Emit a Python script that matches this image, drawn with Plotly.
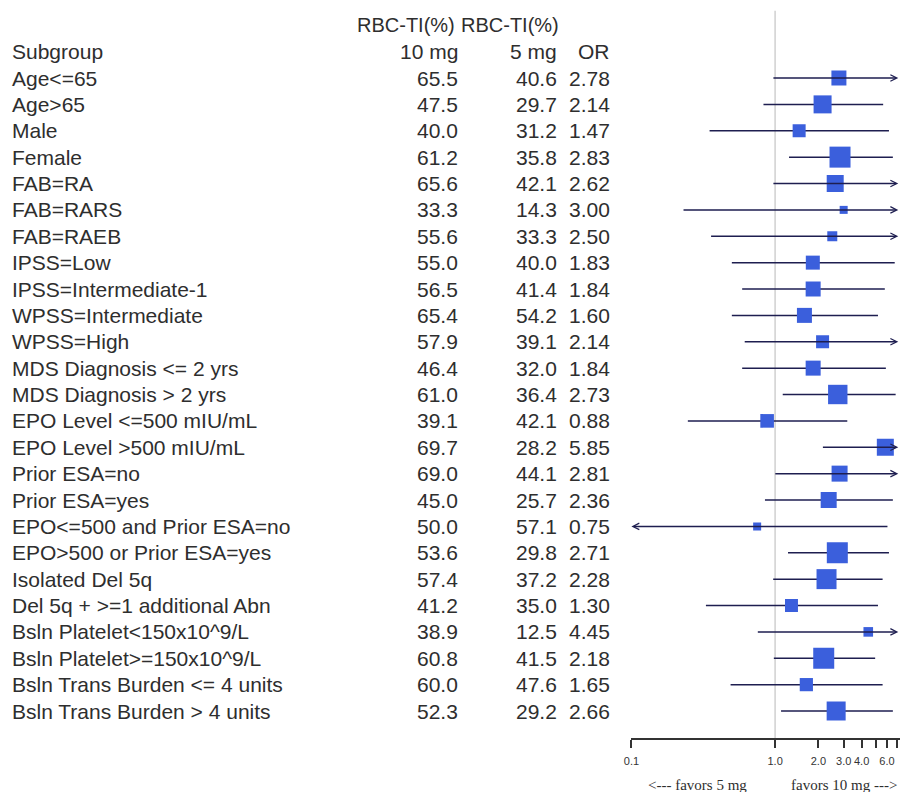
import numpy as np
import plotly.graph_objects as go

# ---- subgroup data ---------------------------------------------------------
subgroups = [
    "Age<=65", "Age>65", "Male", "Female", "FAB=RA", "FAB=RARS", "FAB=RAEB",
    "IPSS=Low", "IPSS=Intermediate-1", "WPSS=Intermediate", "WPSS=High",
    "MDS Diagnosis <= 2 yrs", "MDS Diagnosis > 2 yrs",
    "EPO Level <=500 mIU/mL", "EPO Level >500 mIU/mL",
    "Prior ESA=no", "Prior ESA=yes",
    "EPO<=500 and Prior ESA=no", "EPO>500 or Prior ESA=yes",
    "Isolated Del 5q", "Del 5q + >=1 additional Abn",
    "Bsln Platelet<150x10^9/L", "Bsln Platelet>=150x10^9/L",
    "Bsln Trans Burden <= 4 units", "Bsln Trans Burden > 4 units",
]
rbc_ti_10mg = [65.5, 47.5, 40.0, 61.2, 65.6, 33.3, 55.6, 55.0, 56.5, 65.4, 57.9,
               46.4, 61.0, 39.1, 69.7, 69.0, 45.0, 50.0, 53.6, 57.4, 41.2, 38.9,
               60.8, 60.0, 52.3]
rbc_ti_5mg = [40.6, 29.7, 31.2, 35.8, 42.1, 14.3, 33.3, 40.0, 41.4, 54.2, 39.1,
              32.0, 36.4, 42.1, 28.2, 44.1, 25.7, 57.1, 29.8, 37.2, 35.0, 12.5,
              41.5, 47.6, 29.2]
odds_ratio = [2.78, 2.14, 1.47, 2.83, 2.62, 3.00, 2.50, 1.83, 1.84, 1.60, 2.14,
              1.84, 2.73, 0.88, 5.85, 2.81, 2.36, 0.75, 2.71, 2.28, 1.30, 4.45,
              2.18, 1.65, 2.66]
# 95% CI bounds; None = bound lies beyond the plotted scale (drawn as an arrow)
ci_lower = [0.95, 0.83, 0.35, 1.25, 0.95, 0.225, 0.35, 0.50, 0.59, 0.50, 0.60,
            0.59, 1.13, 0.247, 2.10, 0.98, 0.85, None, 1.23, 0.97, 0.33, 0.74,
            0.98, 0.49, 1.10]
ci_upper = [None, 5.65, 6.2, 6.6, None, None, None, 6.8, 5.8, 5.2, None,
            5.9, 6.9, 3.18, None, None, 6.6, 6.2, 6.2, 5.6, 5.2, None,
            4.97, 5.6, 6.6]
# relative box weight per subgroup
box_weight = [0.75, 0.90, 0.65, 1.05, 0.85, 0.40, 0.50, 0.70, 0.75, 0.75, 0.65,
              0.75, 0.97, 0.68, 0.85, 0.80, 0.80, 0.40, 1.05, 1.00, 0.65, 0.48,
              1.05, 0.66, 0.95]

tick_values = [0.1, 1, 2, 3, 4, 5, 6, 7]
tick_labels = ["0.1", "1.0", "2.0", "3.0", "4.0", "", "6.0", ""]

# ---- geometry ---------------------------------------------------------------
W, H = 900, 792
n = len(subgroups)
rows = np.arange(n)
row_top_px, row_step_px = 78.0, 26.375
axis_px = 738.0
y_top = -row_top_px / row_step_px
y_bottom = (axis_px - row_top_px) / row_step_px
x_min_log, x_max_log = -1.0, np.log10(7.4)

TEXT = "#2e2e2e"
LINE = "#1e1e50"
BOX = "#3b5fdc"
SANS = "Liberation Sans, Arial, sans-serif"
SERIF = "Liberation Serif, Times New Roman, serif"
FONT_SIZE = 21

fig = go.Figure()

# reference line at OR = 1
fig.add_trace(go.Scatter(
    x=[1, 1], y=[y_bottom, -2.55], mode="lines",
    line=dict(color="#d0d0d0", width=1.5), hoverinfo="skip", showlegend=False,
))

# confidence interval segments that stay on the scale
seg_x, seg_y = [], []
for i in rows:
    lo, hi = ci_lower[i], ci_upper[i]
    if lo is not None and hi is not None:
        seg_x += [lo, hi, None]
        seg_y += [i, i, None]
fig.add_trace(go.Scatter(
    x=seg_x, y=seg_y, mode="lines", line=dict(color=LINE, width=1.5),
    hoverinfo="skip", showlegend=False,
))

# odds-ratio boxes
fig.add_trace(go.Scatter(
    x=odds_ratio, y=rows, mode="markers",
    marker=dict(symbol="square", size=[20 * w for w in box_weight], color=BOX,
                opacity=1, line=dict(width=0)),
    hoverinfo="skip", showlegend=False,
))

annotations = []

# intervals running off the scale are drawn as arrows
tip_right = x_max_log - 0.012
tip_left = x_min_log
for i in rows:
    lo, hi = ci_lower[i], ci_upper[i]
    if hi is None:
        annotations.append(dict(
            x=tip_right, y=i, ax=np.log10(lo), ay=i, xref="x", yref="y",
            axref="x", ayref="y", text="", showarrow=True, arrowhead=5,
            arrowsize=0.85, arrowwidth=1.5, arrowcolor=LINE, standoff=0,
        ))
    if lo is None:
        annotations.append(dict(
            x=tip_left, y=i, ax=np.log10(hi), ay=i, xref="x", yref="y",
            axref="x", ayref="y", text="", showarrow=True, arrowhead=5,
            arrowsize=0.85, arrowwidth=1.5, arrowcolor=LINE, standoff=0,
        ))

# table columns
col_name_x, col_10_x, col_5_x, col_or_x = 2, 456, 556, 609


def cell(text, x_px, row, anchor, size=FONT_SIZE):
    return dict(
        x=x_px / W, y=row, xref="paper", yref="y", text=text, showarrow=False,
        xanchor=anchor, yanchor="middle",
        font=dict(family=SANS, size=size, color=TEXT),
    )


annotations += [
    cell("RBC-TI(%)", col_10_x - 3, -2, "right", 20),
    cell("RBC-TI(%)", col_5_x + 2, -2, "right", 20),
    cell("Subgroup", col_name_x, -1, "left"),
    cell("10 mg", col_10_x, -1, "right"),
    cell("5 mg", col_5_x, -1, "right"),
    cell("OR", col_or_x, -1, "right"),
]
for i in rows:
    annotations += [
        cell(subgroups[i], col_name_x, i, "left"),
        cell(f"{rbc_ti_10mg[i]:.1f}", col_10_x, i, "right"),
        cell(f"{rbc_ti_5mg[i]:.1f}", col_5_x, i, "right"),
        cell(f"{odds_ratio[i]:.2f}", col_or_x, i, "right"),
    ]

# direction captions under the axis
for txt, cx in [("&lt;--- favors 5 mg", 696), ("favors 10 mg ---&gt;", 844)]:
    annotations.append(dict(
        x=cx / W, y=(H - 785) / H, xref="paper", yref="paper", text=txt,
        showarrow=False, xanchor="center", yanchor="middle",
        font=dict(family=SERIF, size=15, color=TEXT),
    ))

fig.update_layout(
    width=W, height=H,
    margin=dict(l=0, r=0, t=0, b=0),
    paper_bgcolor="white", plot_bgcolor="white",
    annotations=annotations,
    xaxis=dict(
        type="log", range=[x_min_log, x_max_log],
        domain=[629 / W, 1.0],
        showline=True, linecolor="#333333", linewidth=1.5,
        ticks="outside", ticklen=8, tickwidth=1.5, tickcolor="#333333",
        tickmode="array", tickvals=tick_values, ticktext=tick_labels,
        tickfont=dict(family=SANS, size=11, color="#333333"),
        ticklabelstandoff=4,
        showgrid=False, zeroline=False,
    ),
    yaxis=dict(
        range=[y_bottom, y_top], domain=[(H - axis_px) / H, 1.0],
        visible=False, showgrid=False, zeroline=False,
    ),
)

fig.write_html("out.html")
